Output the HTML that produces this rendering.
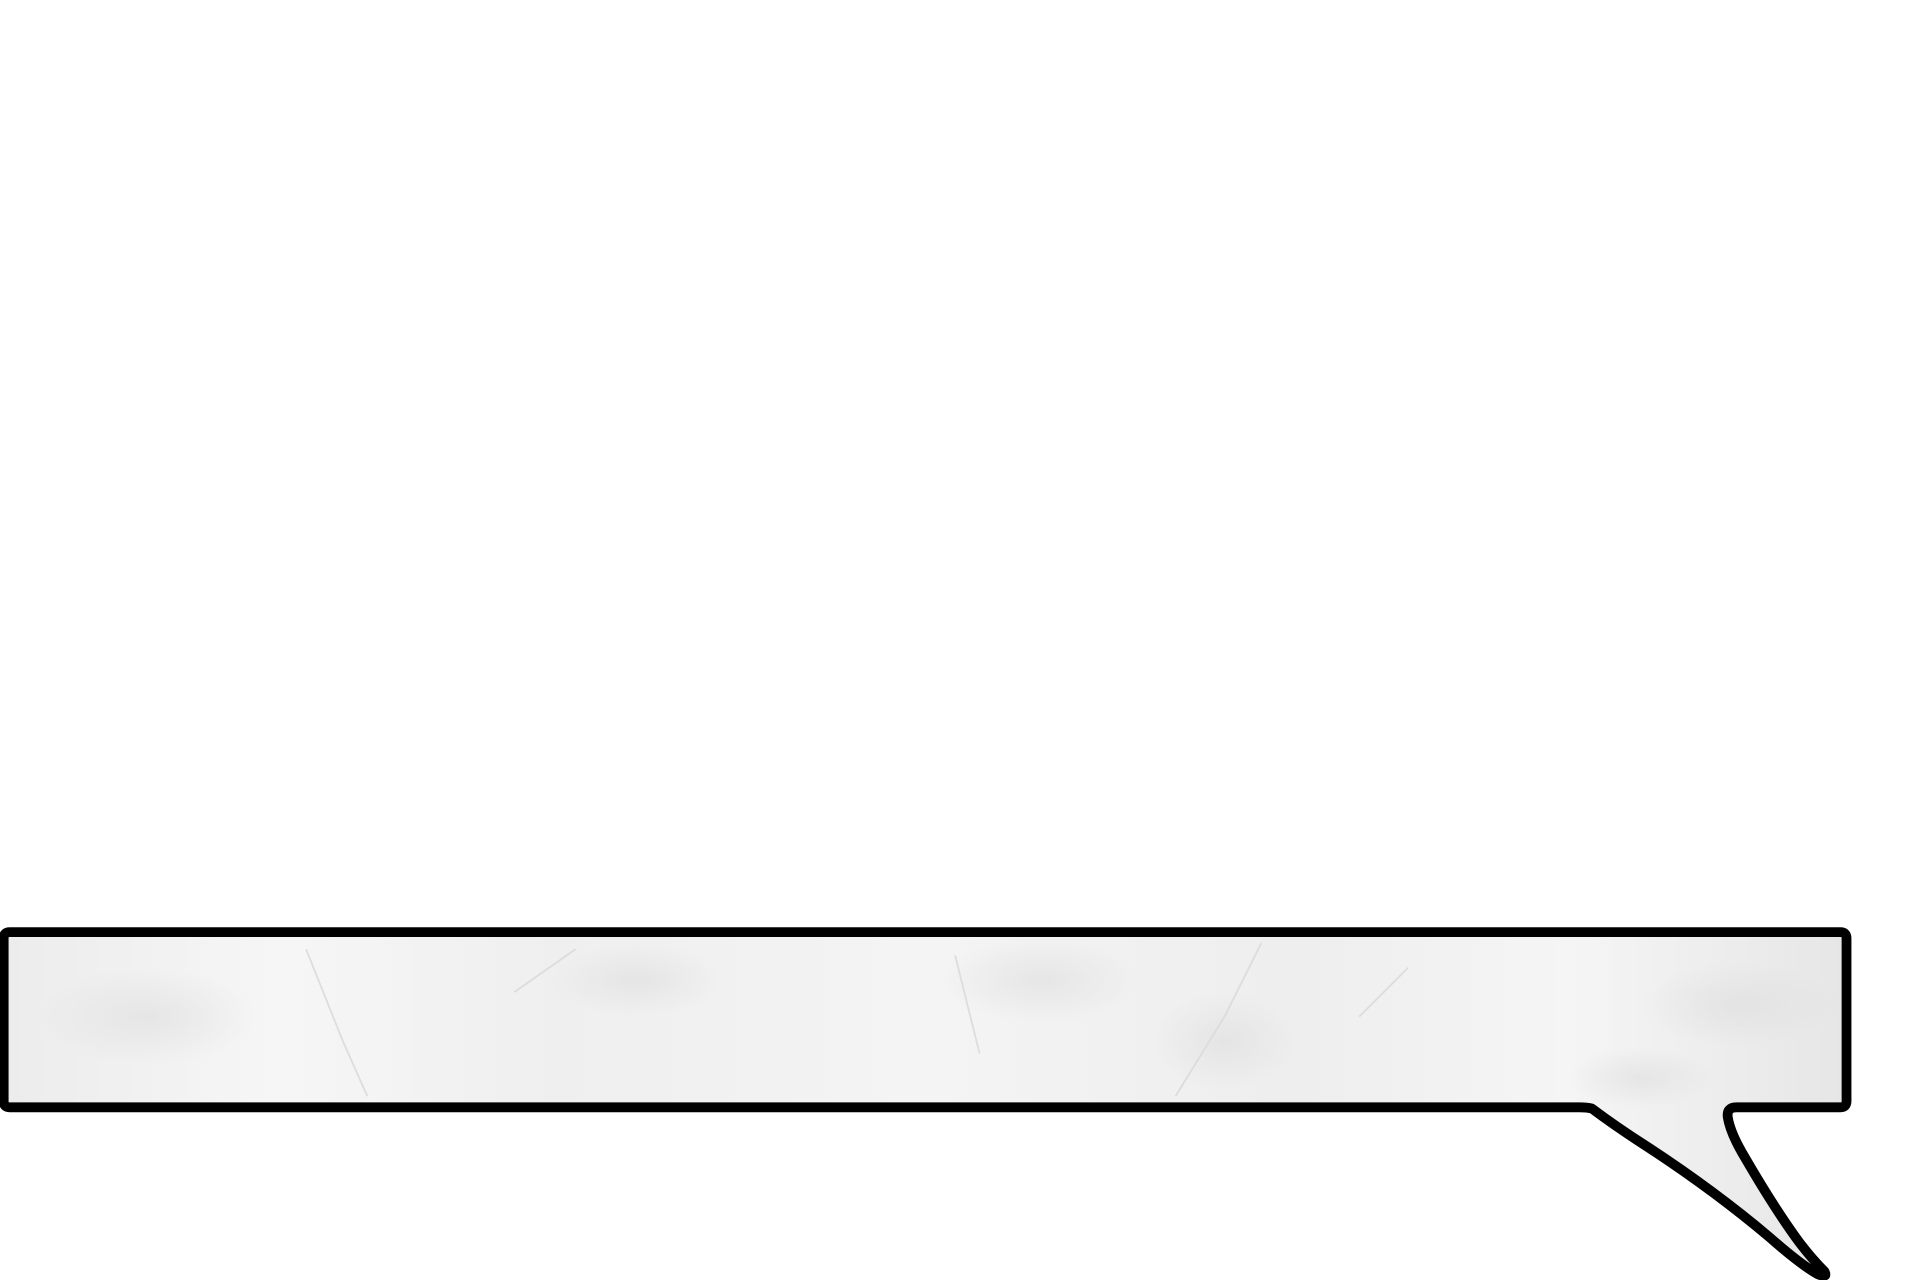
<!DOCTYPE html>
<html><head><meta charset="utf-8"><style>
html,body{margin:0;padding:0;background:#fff;}
svg{display:block;}
</style></head><body>
<svg width="1920" height="1280" viewBox="0 0 1568 1045" preserveAspectRatio="none" xmlns="http://www.w3.org/2000/svg">
<defs>
<linearGradient id="g1" x1="0" y1="0" x2="1" y2="0">
<stop offset="0" stop-color="#ececec"/><stop offset="0.15" stop-color="#f6f6f6"/><stop offset="0.3" stop-color="#efefef"/><stop offset="0.5" stop-color="#f4f4f4"/><stop offset="0.7" stop-color="#eeeeee"/><stop offset="0.85" stop-color="#f5f5f5"/><stop offset="1" stop-color="#e6e6e6"/>
</linearGradient>
<radialGradient id="r1" cx="0.5" cy="0.5" r="0.5"><stop offset="0" stop-color="#dcdcdc" stop-opacity="0.7"/><stop offset="1" stop-color="#dcdcdc" stop-opacity="0"/></radialGradient>
</defs>
<g>
<path d="M8,761 H1503 Q1508,761 1508,766 V899 Q1508,904 1503,904 H1418 Q1410,904 1411,912 Q1413,925 1425,945 Q1450,988 1470,1015 Q1480,1028 1490,1038 Q1493,1044 1484,1040 Q1470,1032 1445,1010 Q1400,972 1345,936 Q1320,920 1300,905 Q1296,904 1290,904 H8 Q3,904 3,899 V766 Q3,761 8,761 Z" fill="url(#g1)" stroke="#000" stroke-width="8" stroke-linejoin="round"/>
<g opacity="0.8">
<ellipse cx="120" cy="830" rx="90" ry="40" fill="url(#r1)"/>
<ellipse cx="520" cy="800" rx="70" ry="30" fill="url(#r1)"/>
<ellipse cx="850" cy="800" rx="80" ry="35" fill="url(#r1)"/>
<ellipse cx="1000" cy="850" rx="60" ry="40" fill="url(#r1)"/>
<ellipse cx="1420" cy="820" rx="80" ry="35" fill="url(#r1)"/>
<ellipse cx="1340" cy="880" rx="60" ry="25" fill="url(#r1)"/>
<path d="M250,775 L280,850 L300,895 M470,775 L420,810 M960,895 L1000,830 L1030,770 M780,780 L800,860 M1150,790 L1110,830" stroke="#d8d8d8" stroke-width="1.5" fill="none"/>
</g>
</g>
</svg>
</body></html>
